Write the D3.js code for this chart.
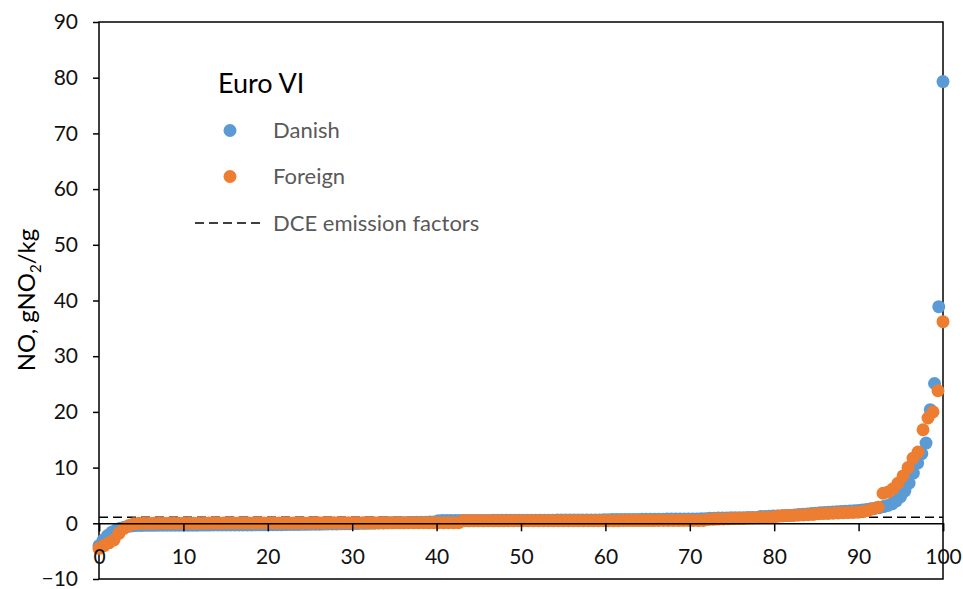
<!DOCTYPE html>
<html>
<head>
<meta charset="utf-8">
<script src="https://cdn.jsdelivr.net/npm/d3@7"></script>
<style>
  body { margin: 0; background: #fff; }
  svg { display: block; font-family: Lato, "Open Sans", sans-serif; }
</style>
</head>
<body>
<svg id="chart" width="963" height="589"></svg>
<script>
// sorted NOx emission factors, one value per vehicle, in rank order
var danish = [
  -4.0, -3.0, -2.2, -1.6, -1.2, -0.9, -0.7, -0.55, -0.45, -0.4,
  -0.38, -0.37, -0.36, -0.36, -0.35, -0.35, -0.35, -0.34, -0.34, -0.34,
  -0.33, -0.33, -0.33, -0.33, -0.32, -0.32, -0.32, -0.31, -0.31, -0.31,
  -0.3, -0.3, -0.3, -0.3, -0.3, -0.29, -0.29, -0.28, -0.28, -0.28,
  -0.27, -0.26, -0.25, -0.24, -0.23, -0.22, -0.21, -0.2, -0.19, -0.18,
  -0.17, -0.16, -0.15, -0.14, -0.13, -0.12, -0.11, -0.1, -0.1, -0.09,
  -0.05, -0.03, 0.0, 0.0, 0.02, 0.03, 0.05, 0.06, 0.08, 0.09,
  0.1, 0.11, 0.12, 0.14, 0.15, 0.17, 0.19, 0.2, 0.22, 0.25,
  0.45, 0.5, 0.5, 0.5, 0.5, 0.5, 0.5, 0.51, 0.51, 0.51,
  0.52, 0.52, 0.52, 0.53, 0.53, 0.53, 0.54, 0.54, 0.54, 0.55,
  0.55, 0.55, 0.56, 0.56, 0.56, 0.57, 0.57, 0.57, 0.58, 0.58,
  0.58, 0.59, 0.59, 0.59, 0.6, 0.6, 0.6, 0.6, 0.61, 0.62,
  0.65, 0.66, 0.67, 0.68, 0.68, 0.69, 0.7, 0.7, 0.71, 0.72,
  0.72, 0.73, 0.74, 0.74, 0.75, 0.76, 0.76, 0.77, 0.78, 0.78,
  0.79, 0.79, 0.8, 0.8, 0.9, 0.92, 0.93, 0.95, 0.96, 0.98,
  0.99, 1.0, 1.01, 1.02, 1.04, 1.05, 1.2, 1.23, 1.26, 1.29,
  1.32, 1.35, 1.38, 1.4, 1.5, 1.56, 1.62, 1.68, 1.74, 1.8,
  1.9, 1.95, 2.0, 2.04, 2.08, 2.12, 2.16, 2.2, 2.25, 2.3,
  2.4, 2.5, 2.6, 2.7, 2.8, 3.0, 3.2, 3.5, 4.0, 4.8,
  5.8, 7.2, 9.0, 10.8, 12.5, 14.4, 20.4, 25.1, 38.9, 79.3
];

var foreign = [
  -4.5, -4.0, -3.5, -3.0, -1.8, -0.9, -0.4, -0.1, 0.0, 0.0,
  0.0, 0.01, 0.01, 0.01, 0.02, 0.02, 0.02, 0.02, 0.03, 0.03,
  0.03, 0.03, 0.04, 0.04, 0.04, 0.04, 0.05, 0.05, 0.05, 0.05,
  0.05, 0.05, 0.06, 0.06, 0.06, 0.06, 0.06, 0.07, 0.07, 0.07,
  0.07, 0.07, 0.07, 0.08, 0.08, 0.08, 0.08, 0.08, 0.08, 0.08,
  0.09, 0.09, 0.09, 0.09, 0.09, 0.09, 0.09, 0.09, 0.1, 0.1,
  0.1, 0.1, 0.1, 0.1, 0.1, 0.1, 0.1, 0.1, 0.1, 0.1,
  0.1, 0.1, 0.1, 0.45, 0.45, 0.45, 0.45, 0.45, 0.45, 0.45,
  0.45, 0.45, 0.46, 0.46, 0.46, 0.46, 0.46, 0.46, 0.46, 0.46,
  0.47, 0.47, 0.47, 0.47, 0.47, 0.47, 0.47, 0.47, 0.48, 0.48,
  0.48, 0.48, 0.48, 0.48, 0.48, 0.49, 0.49, 0.49, 0.49, 0.49,
  0.49, 0.49, 0.5, 0.5, 0.5, 0.5, 0.5, 0.5, 0.5, 0.5,
  0.5, 0.5, 0.7, 0.72, 0.75, 0.78, 0.81, 0.84, 0.87, 0.9,
  0.93, 0.96, 0.99, 1.02, 1.06, 1.1, 1.3, 1.34, 1.38, 1.42,
  1.46, 1.5, 1.55, 1.6, 1.7, 1.74, 1.78, 1.82, 1.86, 1.9,
  1.93, 1.96, 2.0, 2.1, 2.3, 2.6, 2.9, 5.4, 5.6, 6.2,
  7.2, 8.5, 10.0, 11.7, 12.8, 16.8, 18.9, 20.0, 23.8, 36.2
];

var dceFactor = 1.1;
var xTicks = [0, 10, 20, 30, 40, 50, 60, 70, 80, 90, 100];
var yTicks = [-10, 0, 10, 20, 30, 40, 50, 60, 70, 80, 90];

var svg = d3.select("#chart"),
  margin = { top: 22, right: 20, bottom: 10, left: 99 },
  width = 943 - margin.left,
  height = 579 - margin.top,
  g = svg.append("g")
    .attr("transform", "translate(" + margin.left + "," + margin.top + ")");

var x = d3.scaleLinear().domain([0, 100]).range([0, width]);
var y = d3.scaleLinear().domain([-10, 90]).range([height, 0]);

// plot frame
g.append("rect")
  .attr("width", width)
  .attr("height", height)
  .attr("fill", "none")
  .attr("stroke", "#000")
  .attr("stroke-width", 1.5);

// y axis
var yAxis = g.append("g")
  .call(d3.axisLeft(y).tickValues(yTicks).tickSize(6).tickPadding(15));
yAxis.select(".domain").remove();
yAxis.selectAll("line").attr("stroke", "#000").attr("stroke-width", 1.5);
yAxis.selectAll("text").attr("font-size", 21).attr("fill", "#111")
  .attr("font-family", "Lato, sans-serif");

// dashed DCE line
g.append("line")
  .attr("x1", 0).attr("x2", width)
  .attr("y1", y(dceFactor)).attr("y2", y(dceFactor))
  .attr("stroke", "#000")
  .attr("stroke-width", 1.5)
  .attr("stroke-dasharray", "9,5");

// x axis on the zero line
var xAxis = g.append("g")
  .attr("transform", "translate(0," + y(0) + ")")
  .call(d3.axisBottom(x).tickValues(xTicks).tickSize(8).tickPadding(18));
xAxis.select(".domain").attr("stroke", "#000").attr("stroke-width", 1.5);
xAxis.selectAll("line").attr("stroke", "#000").attr("stroke-width", 1.5);

function rankX(arr) {
  return function (d, i) { return x(i * 100 / (arr.length - 1)); };
}

g.append("g").selectAll("circle")
  .data(danish).enter().append("circle")
  .attr("cx", rankX(danish))
  .attr("cy", function (d) { return y(d); })
  .attr("r", 6.5)
  .attr("fill", "#5B9BD5");

g.append("g").selectAll("circle")
  .data(foreign).enter().append("circle")
  .attr("cx", rankX(foreign))
  .attr("cy", function (d) { return y(d); })
  .attr("r", 6.5)
  .attr("fill", "#ED7D31");

// x tick labels drawn last so they sit over the markers
xAxis.raise();
xAxis.selectAll("text").attr("font-size", 21).attr("fill", "#111")
  .attr("font-family", "Lato, sans-serif");

// y axis title
svg.append("text")
  .attr("transform", "translate(35,300) rotate(-90)")
  .attr("text-anchor", "middle")
  .attr("font-size", 24)
  .attr("fill", "#000")
  .html('NO, gNO<tspan font-size="15" dy="6">2</tspan><tspan dy="-6">/kg</tspan>');

// legend
var legend = svg.append("g");
legend.append("text")
  .attr("x", 218).attr("y", 93)
  .attr("font-size", 27).attr("fill", "#000")
  .text("Euro VI");

var items = [
  { label: "Danish", color: "#5B9BD5", y: 130.5 },
  { label: "Foreign", color: "#ED7D31", y: 176.5 }
];
items.forEach(function (d) {
  legend.append("circle")
    .attr("cx", 230).attr("cy", d.y).attr("r", 6.5).attr("fill", d.color);
  legend.append("text")
    .attr("x", 273).attr("y", d.y + 7.5)
    .attr("font-size", 22).attr("fill", "#595959")
    .text(d.label);
});
legend.append("line")
  .attr("x1", 195).attr("x2", 261)
  .attr("y1", 223).attr("y2", 223)
  .attr("stroke", "#000").attr("stroke-width", 1.5)
  .attr("stroke-dasharray", "9,5");
legend.append("text")
  .attr("x", 273).attr("y", 230.5)
  .attr("font-size", 22).attr("fill", "#595959")
  .text("DCE emission factors");
</script>
</body>
</html>
